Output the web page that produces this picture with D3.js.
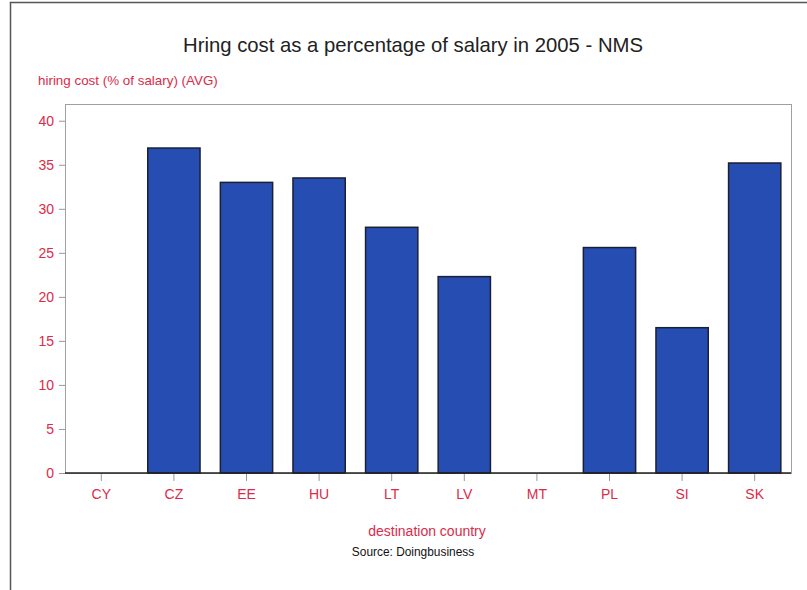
<!DOCTYPE html>
<html>
<head>
<meta charset="utf-8">
<script src="https://cdn.jsdelivr.net/npm/d3@7"></script>
<style>
  body { margin: 0; background: #fff; }
  text { font-family: "Liberation Sans", Arial, sans-serif; }
</style>
</head>
<body>
<svg id="chart"></svg>
<script>
// data
const countries = ['CY', 'CZ', 'EE', 'HU', 'LT', 'LV', 'MT', 'PL', 'SI', 'SK'];
const hiringCost = [0, 36.9, 33.0, 33.5, 27.9, 22.3, 0, 25.6, 16.5, 35.2];
const yTicks = [0, 5, 10, 15, 20, 25, 30, 35, 40];

const red = '#dc2a4a';

const svg = d3.select('#chart')
    .attr('width', 807)
    .attr('height', 590);

// outer frame (left + top edges only visible)
svg.append('path')
    .attr('d', 'M10.5,590 V2.5 H807')
    .attr('fill', 'none')
    .attr('stroke', '#555')
    .attr('stroke-width', 1.5);

const plot = { left: 65, right: 791, top: 104, bottom: 473 };

const x = d3.scaleBand()
    .domain(countries)
    .range([plot.left, plot.right])
    .paddingInner(0.28)
    .paddingOuter(0.14);

const y = d3.scaleLinear()
    .domain([0, 41.9])
    .range([plot.bottom, plot.top]);

// plot box
svg.append('rect')
    .attr('x', plot.left + 0.5)
    .attr('y', plot.top + 0.5)
    .attr('width', plot.right - plot.left)
    .attr('height', plot.bottom - plot.top)
    .attr('fill', 'none')
    .attr('stroke', '#a0a0a0');

// bars
svg.selectAll('.bar')
    .data(countries)
    .enter()
    .append('rect')
    .attr('class', 'bar')
    .attr('x', d => x(d))
    .attr('y', (d, i) => y(hiringCost[i]))
    .attr('width', x.bandwidth())
    .attr('height', (d, i) => y(0) - y(hiringCost[i]))
    .attr('fill', '#264db2')
    .attr('stroke', '#1b1f33')
    .attr('stroke-width', 1.5);

// baseline
svg.append('line')
    .attr('x1', plot.left)
    .attr('x2', plot.right)
    .attr('y1', y(0))
    .attr('y2', y(0))
    .attr('stroke', '#222')
    .attr('stroke-width', 1.5);

// y axis
const yAxis = svg.append('g')
    .attr('transform', 'translate(' + plot.left + ',0)')
    .call(d3.axisLeft(y).tickValues(yTicks).tickSize(6).tickPadding(5));
yAxis.select('.domain').remove();
yAxis.selectAll('line').attr('stroke', '#999');
yAxis.selectAll('text')
    .attr('fill', red)
    .attr('font-size', 14)
    .style('font-family', '"Liberation Sans", Arial, sans-serif');

// x axis
const xAxis = svg.append('g')
    .attr('transform', 'translate(0,' + (plot.bottom + 1) + ')')
    .call(d3.axisBottom(x).tickSize(7).tickPadding(8));
xAxis.select('.domain').remove();
xAxis.selectAll('line').attr('stroke', '#999');
xAxis.selectAll('text')
    .attr('fill', red)
    .attr('font-size', 14)
    .style('font-family', '"Liberation Sans", Arial, sans-serif');

// titles
svg.append('text')
    .attr('x', 413)
    .attr('y', 52)
    .attr('text-anchor', 'middle')
    .attr('font-size', 20.3)
    .attr('fill', '#222')
    .text('Hring cost as a percentage of salary in 2005 - NMS');

svg.append('text')
    .attr('x', 38)
    .attr('y', 85)
    .attr('font-size', 13.4)
    .attr('fill', red)
    .text('hiring cost (% of salary) (AVG)');

svg.append('text')
    .attr('x', 427)
    .attr('y', 536)
    .attr('text-anchor', 'middle')
    .attr('font-size', 14)
    .attr('fill', red)
    .text('destination country');

svg.append('text')
    .attr('x', 413)
    .attr('y', 556)
    .attr('text-anchor', 'middle')
    .attr('font-size', 11.9)
    .attr('fill', '#111')
    .text('Source: Doingbusiness');
</script>
</body>
</html>
